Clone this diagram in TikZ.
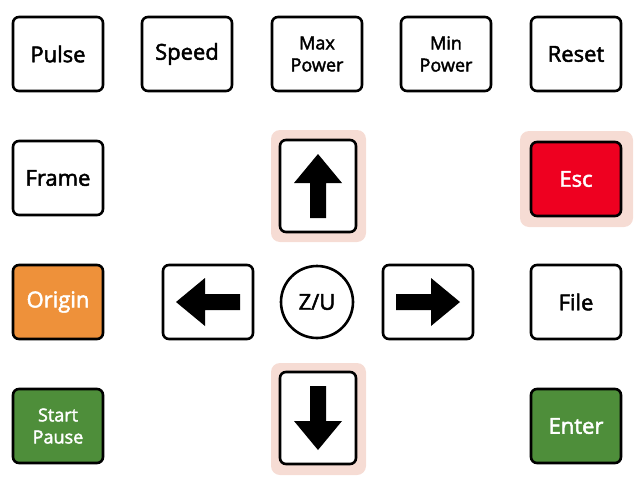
\documentclass[tikz,border=0pt]{standalone}
\usepackage{fontspec}
\setmainfont{Open Sans}
\newfontfamily\semi{Open Sans}[FakeBold=2.2]
\begin{document}
\begin{tikzpicture}[x=1pt,y=-1pt,
  key/.style={draw=black,line width=2.6pt,rounded corners=6pt,minimum width=90pt,minimum height=74pt,fill=white,font=\semi\fontsize{22}{22}\selectfont,text=black,align=center,inner sep=0pt},
  small/.style={font=\semi\fontsize{18}{22}\selectfont},
  halo/.style={fill=halocol,rounded corners=9pt},
  arr/.style={fill=black}]
\useasboundingbox (0,0) rectangle (638,493);
\definecolor{esc}{HTML}{EE0020}
\definecolor{org}{HTML}{EE913A}
\definecolor{grn}{HTML}{4E8E3A}
\definecolor{halocol}{HTML}{F6DCD4}
% halos
\fill[halo] (271,130) rectangle (366,242);
\fill[halo] (271,363) rectangle (366,475);
\fill[halo] (520,131) rectangle (633,227);
% row 1
\node[key] (pulse) at (58,54) {Pulse};
\node[key] (speed) at (187,54) {Speed};
\node[key,small] (max) at (317,54) {Max\\Power};
\node[key,small] (min) at (446,54) {Min\\Power};
\node[key] (reset) at (576,54) {Reset};
% row 2
\node[key] (frame) at (58,178) {Frame};
\node[key,minimum width=76pt,minimum height=92pt] (up) at (318,186) {};
\node[key,fill=esc,text=white] (esc) at (576,179) {Esc};
% row 3
\node[key,fill=org,text=white] (origin) at (58,302) {Origin};
\node[key] (left) at (208,302) {};
\node[draw=black,line width=2.6pt,circle,minimum size=72pt,fill=white,font=\semi\fontsize{22}{22}\selectfont,inner sep=0pt] (zu) at (317,302) {Z/U};
\node[key] (right) at (428,302) {};
\node[key] (file) at (576,302) {File};
% row 4
\node[key,small,fill=grn,text=white] (start) at (58,426) {Start\\Pause};
\node[key,minimum width=76pt,minimum height=92pt] (down) at (318,418) {};
\node[key,fill=grn,text=white] (enter) at (576,426) {Enter};
% arrows
\fill[arr,shift={(up.center)}] (0,-32) -- (24,-3) -- (8,-3) -- (8,32) -- (-8,32) -- (-8,-3) -- (-24,-3) -- cycle;
\fill[arr,shift={(down.center)}] (0,32) -- (24,3) -- (8,3) -- (8,-32) -- (-8,-32) -- (-8,3) -- (-24,3) -- cycle;
\fill[arr,shift={(right.center)}] (32,0) -- (3,-24) -- (3,-8) -- (-32,-8) -- (-32,8) -- (3,8) -- (3,24) -- cycle;
\fill[arr,shift={(left.center)}] (-32,0) -- (-3,-24) -- (-3,-8) -- (32,-8) -- (32,8) -- (-3,8) -- (-3,24) -- cycle;
\end{tikzpicture}
\end{document}
